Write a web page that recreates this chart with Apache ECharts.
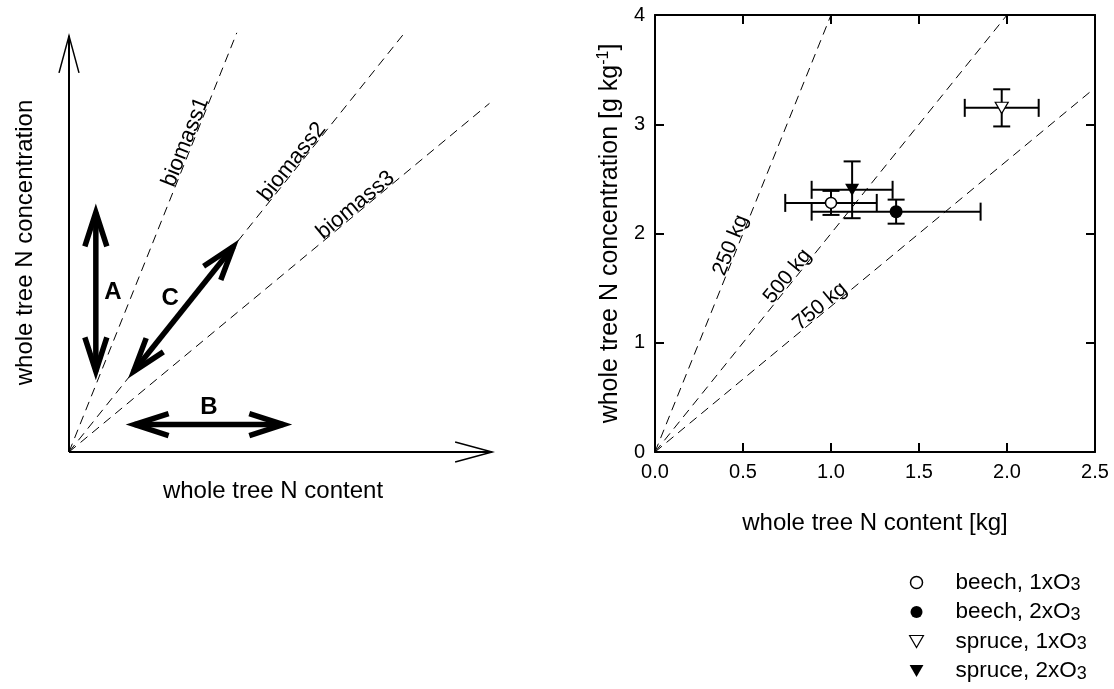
<!DOCTYPE html>
<html>
<head>
<meta charset="utf-8">
<script src="https://cdn.jsdelivr.net/npm/echarts@6/dist/echarts.min.js"></script>
<style>
  html, body { margin: 0; padding: 0; background: #fff; }
  #chart { width: 1114px; height: 689px; }
</style>
</head>
<body>
<div id="chart"></div>
<script>
// ---------- measured whole-tree nitrogen (mean with error) ----------
const groupNames  = ['beech, 1xO3', 'beech, 2xO3', 'spruce, 1xO3', 'spruce, 2xO3'];
const nContent    = [1.00, 1.37, 1.97, 1.12];   // kg
const nContentErr = [0.26, 0.48, 0.21, 0.23];
const nConc       = [2.28, 2.20, 3.15, 2.40];   // g kg-1
const nConcErr    = [0.11, 0.11, 0.17, 0.26];

// iso-biomass lines: concentration = content * 1000 / biomass
const biomassKg = [250, 500, 750];

// axis ranges and tick labels
const contentRange = [0, 2.5, 0.5];
const contentTickLabels = ['0.0', '0.5', '1.0', '1.5', '2.0', '2.5'];
const concRange = [0, 4, 1];
const concTickLabels = ['0', '1', '2', '3', '4'];

// ---------- conceptual diagram (arbitrary units, 0..10) ----------
const schemeLineNames  = ['biomass1', 'biomass2', 'biomass3'];
const schemeSlopes     = [2.54, 1.27, 0.843];
const schemeLineEndX   = [3.94, 7.88, 9.87];
const schemeAxes       = [[0, 0, 10, 0], [0, 0, 0, 10]];
const schemeArrowNames = ['A', 'B', 'C'];
const schemeArrows     = [
  [0.63, 1.71, 0.63, 5.93],
  [5.24, 0.654, 1.33, 0.654],
  [3.99, 5.07, 1.385, 1.753]
];

// ---------- styling ----------
const FONT = 'Liberation Sans, Arial, Helvetica, sans-serif';
const BLACK = '#000';
const DASH = [9, 6];
const DOWN_TRIANGLE = 'path://M0,0L12,0L6,10.4Z';
const MARKERS = [
  { symbol: 'circle', size: 11, color: '#fff', borderWidth: 1.5 },
  { symbol: 'circle', size: 13, color: BLACK, borderWidth: 0 },
  { symbol: DOWN_TRIANGLE, size: [13, 11.3], color: '#fff', borderWidth: 1.2 },
  { symbol: DOWN_TRIANGLE, size: [14, 12.2], color: BLACK, borderWidth: 0 }
];
const SCHEME_LABEL_DIST = [331, 366, 378];   // px along each line from the origin
const KG_LABEL_DIST = 220;
const LINE_LABEL_LIFT = 7;                   // px above the line

const titleStyle = { fontFamily: FONT, fontSize: 24, color: BLACK };

// ---------- render helpers ----------
function chevron(tip, ux, uy, len, half) {
  const bx = tip[0] - ux * len, by = tip[1] - uy * len;
  return [[bx - uy * half, by + ux * half], tip, [bx + uy * half, by - ux * half]];
}

// arrow from (v0,v1) to (v2,v3); open chevron heads
function arrowSeries(axisIdx, data, opt) {
  return {
    type: 'custom',
    xAxisIndex: axisIdx, yAxisIndex: axisIdx,
    silent: true, z: 5,
    data: data,
    renderItem: function (params, api) {
      const a = api.coord([api.value(0), api.value(1)]);
      const b = api.coord([api.value(2), api.value(3)]);
      const dx = b[0] - a[0], dy = b[1] - a[1];
      const L = Math.hypot(dx, dy);
      const ux = dx / L, uy = dy / L;
      // a mitred chevron overshoots its point; pull the point back
      const over = (opt.headWidth / 2) / Math.sin(Math.atan2(opt.headHalf, opt.headLen));
      const tipB = [b[0] - ux * over, b[1] - uy * over];
      const tipA = opt.double ? [a[0] + ux * over, a[1] + uy * over] : a;
      const lineStyle = { stroke: BLACK, fill: null, lineWidth: opt.headWidth, lineJoin: 'miter', lineCap: 'butt' };
      const children = [{
        type: 'line',
        shape: { x1: tipA[0], y1: tipA[1], x2: tipB[0], y2: tipB[1] },
        style: { stroke: BLACK, lineWidth: opt.shaftWidth, lineCap: 'butt' }
      }, {
        type: 'polyline',
        shape: { points: chevron(tipB, ux, uy, opt.headLen, opt.headHalf) },
        style: lineStyle
      }];
      if (opt.double) {
        children.push({
          type: 'polyline',
          shape: { points: chevron(tipA, -ux, -uy, opt.headLen, opt.headHalf) },
          style: lineStyle
        });
      }
      if (opt.names) {
        const mx = (a[0] + b[0]) / 2 - uy * opt.nameGap;
        const my = (a[1] + b[1]) / 2 + ux * opt.nameGap;
        children.push({
          type: 'text', x: mx, y: my,
          style: {
            text: opt.names[params.dataIndex], x: 0, y: 0,
            align: 'center', verticalAlign: 'middle',
            fontFamily: FONT, fontSize: 24, fontWeight: 'bold', fill: BLACK
          }
        });
      }
      return { type: 'group', children: children };
    }
  };
}

// text laid along a line through the origin with the given slope
function lineLabelSeries(axisIdx, slopes, texts, dists, fontSize) {
  return {
    type: 'custom',
    xAxisIndex: axisIdx, yAxisIndex: axisIdx,
    silent: true, z: 4,
    data: slopes.map(function (s) { return [0, 0, s]; }),
    renderItem: function (params, api) {
      const o = api.coord([0, 0]);
      const p = api.coord([1, api.value(2)]);
      const dx = p[0] - o[0], dy = p[1] - o[1];
      const L = Math.hypot(dx, dy);
      const d = Array.isArray(dists) ? dists[params.dataIndex] : dists;
      return {
        type: 'text',
        x: o[0] + dx / L * d,
        y: o[1] + dy / L * d,
        rotation: Math.atan2(-dy, dx),
        style: {
          text: texts[params.dataIndex], x: 0, y: -LINE_LABEL_LIFT,
          align: 'center', verticalAlign: 'middle',
          fontFamily: FONT, fontSize: fontSize, fill: BLACK
        }
      };
    }
  };
}

function dashedLine(axisIdx, x1, y1) {
  return {
    type: 'line',
    xAxisIndex: axisIdx, yAxisIndex: axisIdx,
    silent: true, symbol: 'none', z: 2,
    data: [[0, 0], [x1, y1]],
    lineStyle: { color: BLACK, width: 1, type: DASH }
  };
}

// ---------- series ----------
const series = [];

// conceptual diagram
schemeSlopes.forEach(function (s, i) {
  series.push(dashedLine(0, schemeLineEndX[i], s * schemeLineEndX[i]));
});
series.push(lineLabelSeries(0, schemeSlopes, schemeLineNames, SCHEME_LABEL_DIST, 22));
series.push(arrowSeries(0, schemeAxes, { double: false, shaftWidth: 2, headWidth: 1.5, headLen: 37, headHalf: 10 }));
series.push(arrowSeries(0, schemeArrows, {
  double: true, shaftWidth: 5.5, headWidth: 5.5, headLen: 34, headHalf: 11,
  names: schemeArrowNames, nameGap: 17
}));

// iso-biomass lines, clipped to the plot box
const kgSlopes = biomassKg.map(function (kg) { return 1000 / kg; });
kgSlopes.forEach(function (s) {
  const xEnd = Math.min(contentRange[1], concRange[1] / s);
  series.push(dashedLine(1, xEnd, s * xEnd));
});
series.push(lineLabelSeries(1, kgSlopes, biomassKg.map(function (kg) { return kg + ' kg'; }), KG_LABEL_DIST, 21));

// error bars
series.push({
  type: 'custom',
  xAxisIndex: 1, yAxisIndex: 1,
  silent: true, z: 6,
  data: nContent.map(function (x, i) { return [x, nConc[i], nContentErr[i], nConcErr[i]]; }),
  renderItem: function (params, api) {
    const x = api.value(0), y = api.value(1), ex = api.value(2), ey = api.value(3);
    const l = api.coord([x - ex, y]), r = api.coord([x + ex, y]);
    const t = api.coord([x, y + ey]), b = api.coord([x, y - ey]);
    const capH = 9, capW = 8.5;
    const st = { stroke: BLACK, lineWidth: 2 };
    const seg = function (x1, y1, x2, y2) {
      return { type: 'line', shape: { x1: x1, y1: y1, x2: x2, y2: y2 }, style: st };
    };
    return {
      type: 'group',
      children: [
        seg(l[0], l[1], r[0], r[1]),
        seg(l[0], l[1] - capH, l[0], l[1] + capH),
        seg(r[0], r[1] - capH, r[0], r[1] + capH),
        seg(t[0], t[1], b[0], b[1]),
        seg(t[0] - capW, t[1], t[0] + capW, t[1]),
        seg(b[0] - capW, b[1], b[0] + capW, b[1])
      ]
    };
  }
});

// group means
groupNames.forEach(function (name, i) {
  const m = MARKERS[i];
  series.push({
    type: 'scatter',
    name: name,
    xAxisIndex: 1, yAxisIndex: 1,
    silent: true, z: 8,
    symbol: m.symbol,
    symbolSize: m.size,
    itemStyle: { color: m.color, borderColor: BLACK, borderWidth: m.borderWidth, opacity: 1 },
    data: [[nContent[i], nConc[i]]]
  });
});

// ---------- axes ----------
const hiddenAxisParts = {
  axisLine: { show: false }, axisTick: { show: false },
  axisLabel: { show: false }, splitLine: { show: false }
};
const frameLine = { show: true, onZero: false, lineStyle: { color: BLACK, width: 2 } };
const frameTick = { show: true, inside: true, length: 9, lineStyle: { color: BLACK, width: 2 } };
const tickText = { fontFamily: FONT, fontSize: 20, color: BLACK, margin: 10 };

const option = {
  animation: false,
  backgroundColor: '#fff',
  grid: [
    { left: 69, top: 33, width: 426, height: 419 },
    { left: 655, top: 15, width: 440, height: 437 }
  ],
  xAxis: [
    Object.assign({
      gridIndex: 0, type: 'value', min: 0, max: 10,
      name: 'whole tree N content', nameLocation: 'middle', nameGap: 27,
      nameTextStyle: Object.assign({ padding: [0, 18, 0, 0] }, titleStyle)
    }, hiddenAxisParts),
    {
      gridIndex: 1, type: 'value', position: 'bottom',
      min: contentRange[0], max: contentRange[1], interval: contentRange[2],
      axisLine: frameLine, axisTick: frameTick, splitLine: { show: false },
      axisLabel: Object.assign({
        formatter: function (v) { return contentTickLabels[Math.round(v / contentRange[2])]; }
      }, tickText),
      name: 'whole tree N content [kg]', nameLocation: 'middle', nameGap: 59,
      nameTextStyle: titleStyle
    },
    {
      gridIndex: 1, type: 'value', position: 'top',
      min: contentRange[0], max: contentRange[1], interval: contentRange[2],
      axisLine: frameLine, axisTick: frameTick, splitLine: { show: false },
      axisLabel: { show: false }
    }
  ],
  yAxis: [
    Object.assign({
      gridIndex: 0, type: 'value', min: 0, max: 10,
      name: 'whole tree N concentration', nameLocation: 'middle', nameGap: 32,
      nameTextStyle: titleStyle
    }, hiddenAxisParts),
    {
      gridIndex: 1, type: 'value', position: 'left',
      min: concRange[0], max: concRange[1], interval: concRange[2],
      axisLine: frameLine, axisTick: frameTick, splitLine: { show: false },
      axisLabel: Object.assign({
        formatter: function (v) { return concTickLabels[Math.round(v / concRange[2])]; }
      }, tickText),
      name: '{n|whole tree N concentration [g kg}{sup|-1}{n|]}',
      nameLocation: 'middle', nameGap: 30,
      nameTextStyle: {
        fontFamily: FONT, fontSize: 25, color: BLACK,
        rich: {
          n: { fontFamily: FONT, fontSize: 25, lineHeight: 29, color: BLACK },
          sup: { fontFamily: FONT, fontSize: 16, lineHeight: 15, verticalAlign: 'top', color: BLACK }
        }
      }
    },
    {
      gridIndex: 1, type: 'value', position: 'right',
      min: concRange[0], max: concRange[1], interval: concRange[2],
      axisLine: frameLine, axisTick: frameTick, splitLine: { show: false },
      axisLabel: { show: false }
    }
  ],
  legend: {
    orient: 'vertical',
    left: 904, top: 566,
    itemWidth: 68, itemHeight: 12, itemGap: 6,
    selectedMode: false,
    data: groupNames.map(function (name, i) {
      const m = MARKERS[i];
      return {
        name: name,
        icon: m.symbol,
        itemStyle: { color: m.color, borderColor: BLACK, borderWidth: m.borderWidth }
      };
    }),
    formatter: function (name) {
      return '{t|' + name.replace(/3$/, '') + '}{s|3}';
    },
    textStyle: {
      fontFamily: FONT, fontSize: 22.5, color: BLACK,
      rich: {
        t: { fontFamily: FONT, fontSize: 22.5, lineHeight: 24, color: BLACK },
        s: { fontFamily: FONT, fontSize: 18, lineHeight: 14, verticalAlign: 'bottom', color: BLACK }
      }
    }
  },
  series: series
};

const chart = echarts.init(document.getElementById('chart'), null, { renderer: 'canvas' });
chart.setOption(option);
</script>
</body>
</html>
